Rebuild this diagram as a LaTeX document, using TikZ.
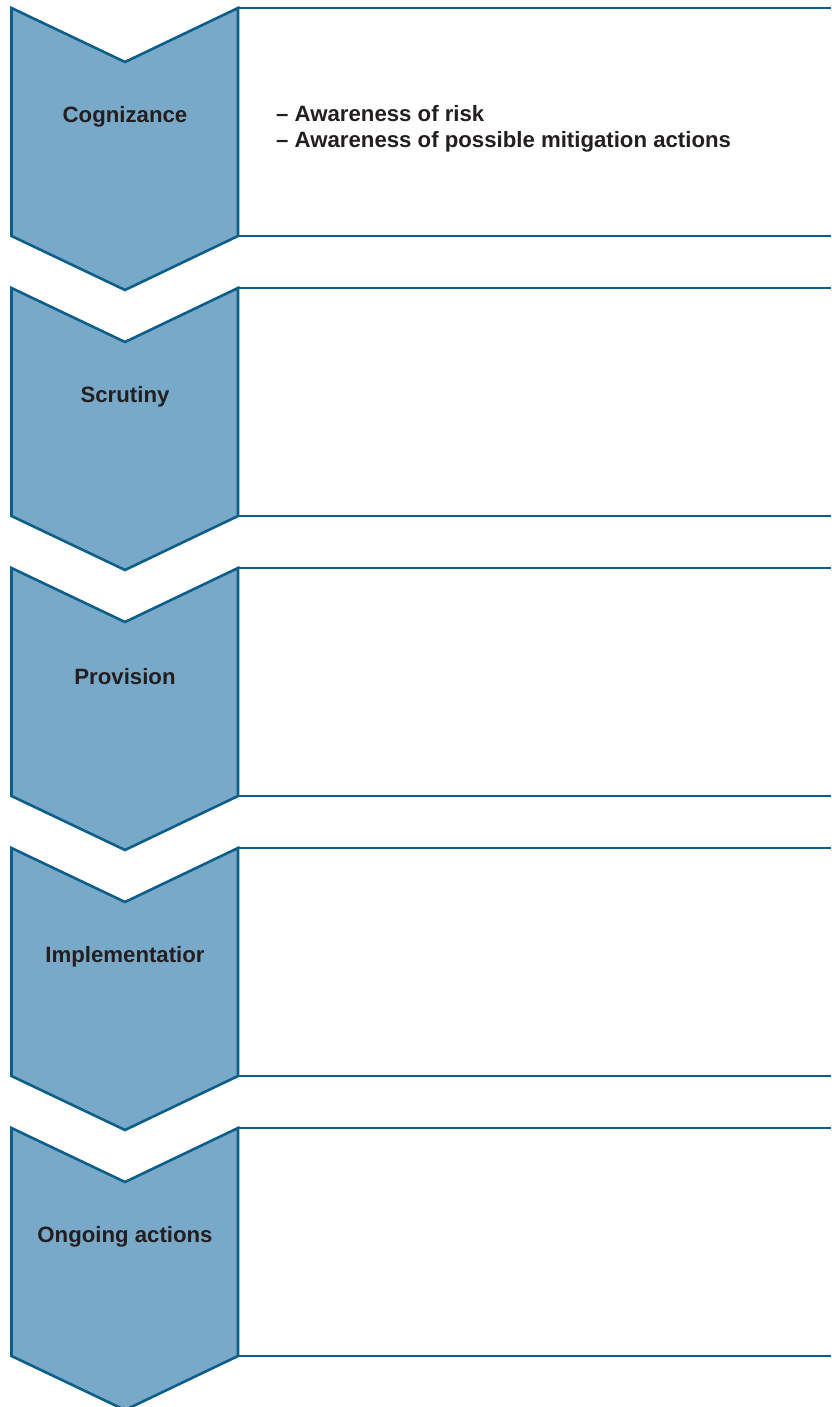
\documentclass[tikz,border=0pt]{standalone}
\usepackage{fontspec}
\setmainfont{Liberation Sans}
\definecolor{chevfill}{RGB}{120,169,200}
\definecolor{chevline}{RGB}{14,94,138}
\definecolor{txt}{RGB}{35,31,32}
\begin{document}
\begin{tikzpicture}[x=1pt,y=-1pt,
  chevron/.style={fill=chevfill,draw=chevline,line width=2.6pt,line join=miter},
  boxline/.style={draw=chevline,line width=2.6pt},
  steplabel/.style={font=\fontsize{22.2}{26}\selectfont\bfseries,text=txt,inner sep=0pt},
  bullets/.style={font=\fontsize{22.2}{26}\selectfont\bfseries,text=txt,inner sep=0pt,align=left,anchor=west}]
\useasboundingbox (0,0) rectangle (831,1407);
\clip (0,0) rectangle (831,1407);
\foreach \i/\lab in {0/Cognizance,1/Scrutiny,2/Provision,3/Implementatior,4/Ongoing actions}{
  \pgfmathsetmacro{\t}{8+280*\i}
  \draw[chevron] (11.5,\t) -- (125,\t+54) -- (238,\t) -- (238,\t+228) -- (125,\t+282) -- (11.5,\t+228) -- cycle;
  \draw[boxline] (238,\t) -- (835,\t);
  \draw[boxline] (238,\t+228) -- (835,\t+228);
  \node[steplabel] (lab\i) at (125,\t+108.5) {\lab};
}
\node[bullets] (bul0) at (276,129) {– Awareness of risk\\– Awareness of possible mitigation actions};
\end{tikzpicture}
\end{document}
